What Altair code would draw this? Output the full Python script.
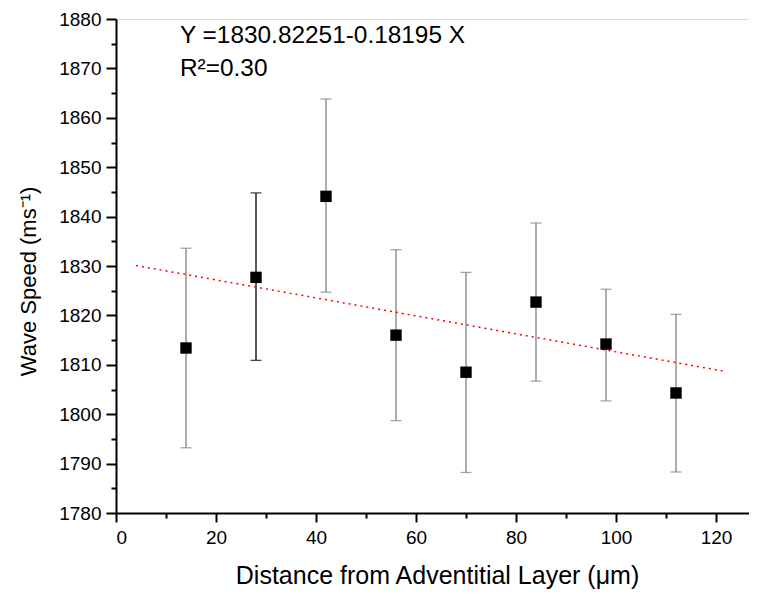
import altair as alt
import pandas as pd

distance = [14, 28, 42, 56, 70, 84, 98, 112]
speed = [1813.4, 1827.7, 1844.1, 1816.0, 1808.5, 1822.7, 1814.2, 1804.3]
err_low = [1793.2, 1810.9, 1824.7, 1798.7, 1788.2, 1806.7, 1802.7, 1788.3]
err_high = [1833.6, 1844.8, 1863.8, 1833.3, 1828.7, 1838.7, 1825.3, 1820.2]

fit_intercept = 1830.82251
fit_slope = -0.18195
fit_x = [4, 122]

eq_labels = ["Y =1830.82251-0.18195 X", "R\u00b2=0.30"]
eq_x = [12.8, 12.8]
eq_y = [1875.1, 1868.4]

x_major = [0, 20, 40, 60, 80, 100, 120]
x_minor = [10, 30, 50, 70, 90, 110]
y_major = list(range(1780, 1881, 10))
y_minor = list(range(1785, 1880, 10))

df = pd.DataFrame({"d": distance, "v": speed, "lo": err_low, "hi": err_high})
fit_df = pd.DataFrame({"d": fit_x, "v": [fit_intercept + fit_slope * x for x in fit_x]})
eq_df = pd.DataFrame({"d": eq_x, "v": eq_y, "t": eq_labels})

FONT = "Liberation Sans"
xdom = [0, 126.6]
ydom = [1780, 1880]

xs = alt.Scale(domain=xdom, nice=False, zero=False)
ys = alt.Scale(domain=ydom, nice=False, zero=False)

x_axis = alt.Axis(
    values=x_major, title="Distance from Adventitial Layer (\u03bcm)", grid=False, orient="bottom",
    domainColor="black", domainWidth=2, tickColor="black", tickWidth=2, tickSize=9,
    labelFont=FONT, labelFontSize=19, labelColor="black", labelPadding=6,
    titleFont=FONT, titleFontSize=25, titleFontWeight="normal", titleColor="black",
    titleX=321, titleY=70, titleBaseline="alphabetic", titleAlign="center", format="d",
)
y_axis = alt.Axis(
    values=y_major, title="Wave Speed (ms\u207b\u00b9)", grid=False, orient="left",
    domainColor="black", domainWidth=2, tickColor="black", tickWidth=2, tickSize=10,
    labelFont=FONT, labelFontSize=19, labelColor="black", labelPadding=5,
    titleFont=FONT, titleFontSize=22, titleFontWeight="normal", titleColor="black",
    titleAngle=270, titleX=-88, titleY=262, titleAlign="center", titleBaseline="middle",
    format="d",
)

bar_color = alt.condition("datum.d == 28", alt.value("black"), alt.value("#808080"))

base = alt.Chart(df)

rules = base.mark_rule(strokeWidth=1.3).encode(
    x=alt.X("d:Q", scale=xs, axis=x_axis),
    y=alt.Y("lo:Q", scale=ys, axis=y_axis),
    y2="hi:Q",
    color=bar_color,
)
cap_hi = base.mark_tick(orient="horizontal", size=11, thickness=1.3).encode(
    x=alt.X("d:Q", scale=xs, axis=None), y=alt.Y("hi:Q", scale=ys, axis=None), color=bar_color
)
cap_lo = base.mark_tick(orient="horizontal", size=11, thickness=1.3).encode(
    x=alt.X("d:Q", scale=xs, axis=None), y=alt.Y("lo:Q", scale=ys, axis=None), color=bar_color
)
points = base.mark_square(size=130, color="black", opacity=1).encode(
    x=alt.X("d:Q", scale=xs, axis=None), y=alt.Y("v:Q", scale=ys, axis=None)
)
fit = alt.Chart(fit_df).mark_line(color="red", strokeDash=[2, 4], strokeWidth=1.5).encode(
    x=alt.X("d:Q", scale=xs, axis=None), y=alt.Y("v:Q", scale=ys, axis=None)
)
eq = alt.Chart(eq_df).mark_text(
    align="left", baseline="alphabetic", font=FONT, fontSize=24.4, color="black"
).encode(x=alt.X("d:Q", scale=xs, axis=None), y=alt.Y("v:Q", scale=ys, axis=None), text="t:N")

# minor ticks via extra axes
minor = alt.Chart(df).mark_point(opacity=0).encode(
    x=alt.X("d:Q", scale=xs, axis=alt.Axis(values=x_minor, labels=False, domain=False, title=None,
                                            tickColor="black", tickWidth=2, tickSize=5, grid=False, orient="bottom")),
    y=alt.Y("v:Q", scale=ys, axis=alt.Axis(values=y_minor, labels=False, domain=False, title=None,
                                            tickColor="black", tickWidth=2, tickSize=5, grid=False, orient="left")),
)

chart = alt.layer(rules, cap_hi, cap_lo, fit, points, eq, minor).resolve_axis(
    x="independent", y="independent"
).properties(
    width=633, height=494,
    autosize=alt.AutoSizeParams(type="none"),
    padding={"left": 108, "top": 11, "right": 0, "bottom": 76},
).configure_view(stroke=None).configure(background="white")

chart.save("out.html", embed_options={"renderer": "svg", "actions": False})
